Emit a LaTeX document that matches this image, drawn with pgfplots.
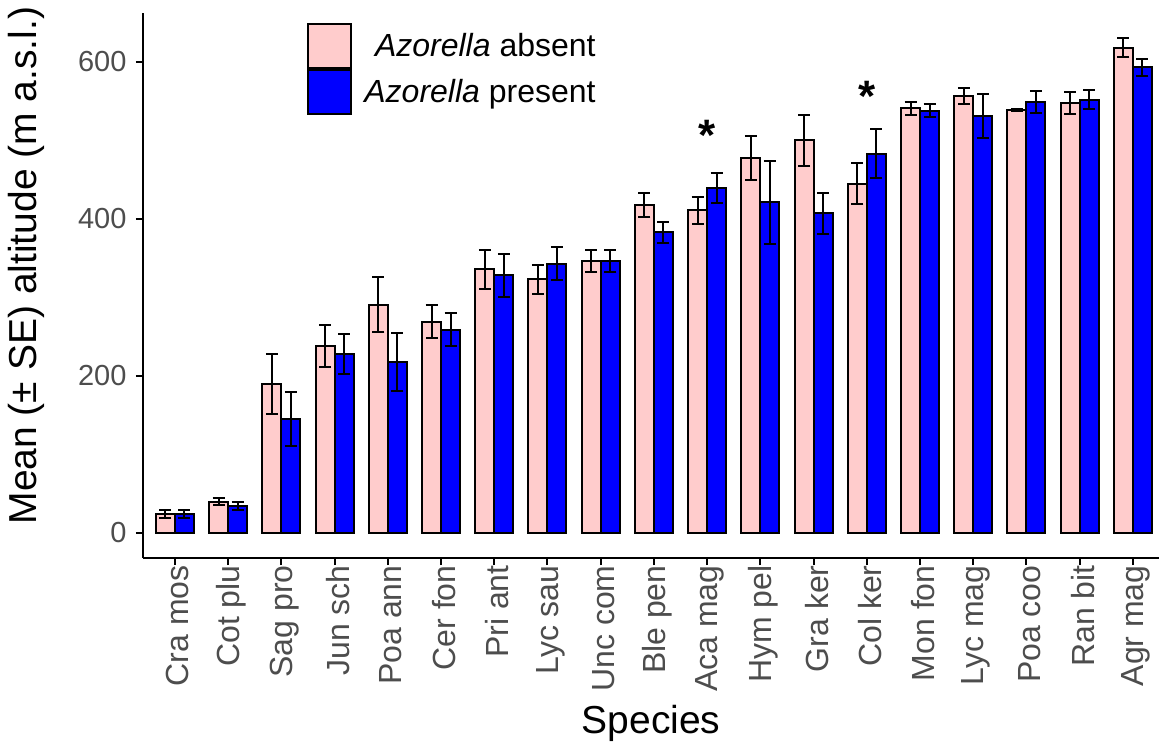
\documentclass[border=0pt]{standalone}
\usepackage{fontspec}
\setmainfont{Liberation Sans}
\usepackage{pgfplots}
\usepackage{pgfplotstable}
\pgfplotsset{compat=1.18}
\definecolor{pinkfill}{RGB}{255,204,204}
\definecolor{bluefill}{RGB}{0,0,255}
\definecolor{ticklab}{RGB}{77,77,77}

\pgfplotstableread{
x  pa   epa  pb   epb
0  24   5    24   5
1  40   4    34   5
2  190  38   145  34
3  238  27   228  25
4  291  35   218  37
5  269  21   259  21
6  336  25   328  28
7  323  18   343  21
8  346  14   346  14
9  418  15   383  13
10 411  17   439  19
11 478  28   421  53
12 500  33   407  26
13 445  26   483  31
14 541  8    538  8
15 557  10   531  28
16 539  1    549  14
17 548  14   552  12
18 618  12   593  11
}\datatable

\begin{document}
\begin{tikzpicture}
\useasboundingbox (-71.5pt,-92.6pt) rectangle (508pt,278.9pt);
\begin{axis}[
  at={(0,0)}, anchor=south west,
  scale only axis, width=508pt, height=272.25pt,
  xmin=-0.6, xmax=18.49, ymin=-31.6, ymax=662,
  axis x line*=bottom, axis y line*=left,
  axis line style={line width=1pt, -},
  tick align=outside, tick style={line width=1pt, black},
  major tick length=3.6pt,
  xtick={0,...,18},
  xticklabels={Cra mos, Cot plu, Sag pro, Jun sch, Poa ann, Cer fon, Pri ant, Lyc sau, Unc com, Ble pen, Aca mag, Hym pel, Gra ker, Col ker, Mon fon, Lyc mag, Poa coo, Ran bit, Agr mag},
  xticklabel style={rotate=90, anchor=east, font=\fontsize{16}{16}\selectfont, text=ticklab, inner sep=0pt, yshift=-1.5pt},
  ytick={0,200,400,600},
  yticklabel style={font=\fontsize{14.5}{14.5}\selectfont, text=ticklab, inner sep=0pt, xshift=-4.5pt},
  /pgf/number format/assume math mode=true,
  xlabel={Species},
  ylabel={Mean (± SE) altitude (m a.s.l.)},
  xlabel style={font=\fontsize{19.5}{19.5}\selectfont, yshift=-3pt},
  ylabel style={font=\fontsize{19.5}{19.5}\selectfont, xshift=10pt, yshift=13pt},
  ybar=0pt, bar width=9.5pt,
  legend cell align=right,
  legend style={at={(0,1)}, anchor=north west, xshift=82pt, yshift=-4.8pt,
    draw=none, fill=none, inner sep=0pt, row sep=0pt, column sep=4pt,
    font=\fontsize{16}{16}\selectfont},
  legend image code/.code={\draw[#1, line width=1pt] (0pt,-11pt) rectangle (21.5pt,11pt);},
]
\addplot[fill=pinkfill, draw=black, line width=1pt,
  error bars/.cd, y dir=both, y explicit, error mark=-,
  error bar style={line width=1pt, black},
  error mark options={rotate=90, line width=1pt, black, mark size=3pt}]
  table[x=x, y=pa, y error=epa]{\datatable};
\addlegendentry{\textit{Azorella} absent}
\addplot[fill=bluefill, draw=black, line width=1pt,
  error bars/.cd, y dir=both, y explicit, error mark=-,
  error bar style={line width=1pt, black},
  error mark options={rotate=90, line width=1pt, black, mark size=3pt}]
  table[x=x, y=pb, y error=epb]{\datatable};
\addlegendentry{\textit{Azorella} present}
\node[font=\fontsize{22}{22}\selectfont\bfseries, inner sep=0pt] at (axis cs:10,507) {*};
\node[font=\fontsize{22}{22}\selectfont\bfseries, inner sep=0pt] at (axis cs:13,556) {*};
\end{axis}
\end{tikzpicture}
\end{document}
